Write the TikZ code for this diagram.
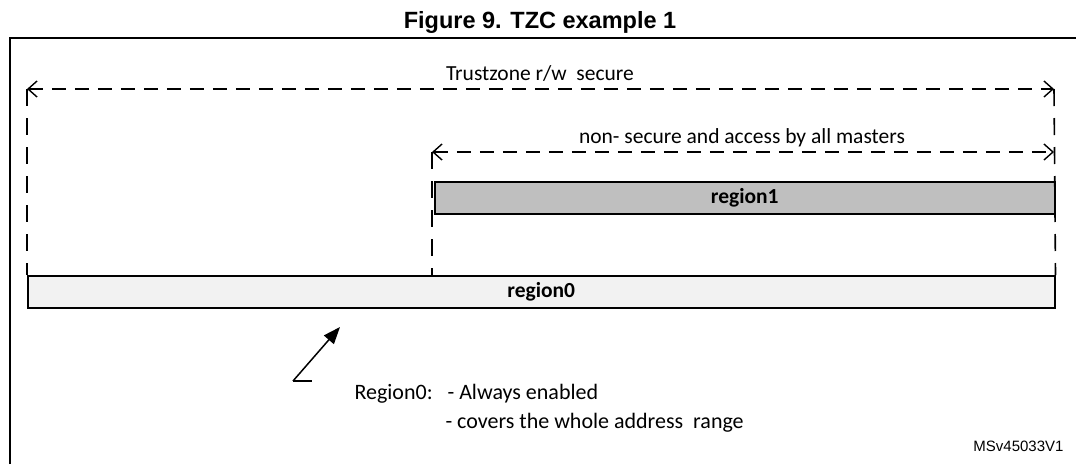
\documentclass[tikz,border=0pt]{standalone}
\usepackage{fontspec}
\setmainfont{Carlito}
\newfontfamily\arialfont{Liberation Sans}
\usepackage{xcolor}
\usepackage{tikz}
\usetikzlibrary{arrows.meta}
\definecolor{ink}{HTML}{000000}
\definecolor{reg0}{HTML}{F2F2F2}
\definecolor{reg1}{HTML}{BFBFBF}
\tikzset{
  frame/.style={draw=ink, line width=2.4pt},
  span/.style={draw=ink, line width=1.6pt, dash pattern=on 14pt off 9pt,
    {Straight Barb[length=9pt,width=16pt,line width=1.4pt]}-{Straight Barb[length=9pt,width=16pt,line width=1.4pt]}},
  guide/.style={draw=ink, line width=1.6pt, dash pattern=on 17pt off 12pt},
  reg/.style={draw=ink, line width=1.5pt, inner sep=0pt, anchor=north west,
    font=\fontsize{21.5}{24}\selectfont\bfseries},
  pointer/.style={draw=ink, line width=1.5pt, -{Triangle[length=17pt,width=13pt]}},
  lab/.style={text=ink, font=\fontsize{21.5}{24}\selectfont, anchor=base},
  ttl/.style={text=ink, font=\fontsize{23.5}{26}\selectfont\arialfont\bfseries, anchor=base},
  tag/.style={text=ink, font=\fontsize{15}{18}\selectfont\arialfont, anchor=base east},
}

\begin{document}
\begin{tikzpicture}[x=1pt,y=-1pt]
  \useasboundingbox (0,0) rectangle (1076,464);

  \node[ttl] (title) at (540,28) {Figure 9. TZC example 1};
  \draw[frame] (10,464) |- (1076,38);

  % regions
  \node[reg, fill=reg0, minimum width=1027pt, minimum height=32pt] (r0) at (27,275) {region0};
  \node[reg, fill=reg1, minimum width=620pt, minimum height=32pt] (r1) at (434,181) {region1};

  % spans
  \coordinate (tzL) at (27,89);
  \coordinate (tzR) at (1054,89);
  \coordinate (nsL) at (432,152);
  \coordinate (nsR) at (1054,152);
  \draw[span] (tzL) -- (tzR);
  \draw[span] (nsL) -- (nsR);
  \draw[guide] (tzL) -- (r0.north west);
  \draw[guide] (tzR) -- (r0.north east);
  \draw[guide] (nsL) -- (nsL |- r0.north);
  \node[lab] (tzlab) at (540,80) {Trustzone r/w\ \ secure};
  \node[lab] (nslab) at (742,143) {non- secure and access by all masters};

  % note
  \coordinate (foot) at (293,381);
  \coordinate (tip) at (340,327);
  \draw[pointer] (foot) -- (tip);
  \draw[draw=ink, line width=1.5pt] (foot) -- ++(19,0);
  \node[lab, anchor=base west, font=\fontsize{22}{24}\selectfont] (note1) at (351,399) {Region0:\ \ \ - Always enabled};
  \node[lab, anchor=base west, font=\fontsize{22}{24}\selectfont] (note2) at (442,428) {- covers the whole address\ \ range};

  \node[tag] (msv) at (1067,451) {MSv45033V1};
\end{tikzpicture}
\end{document}
